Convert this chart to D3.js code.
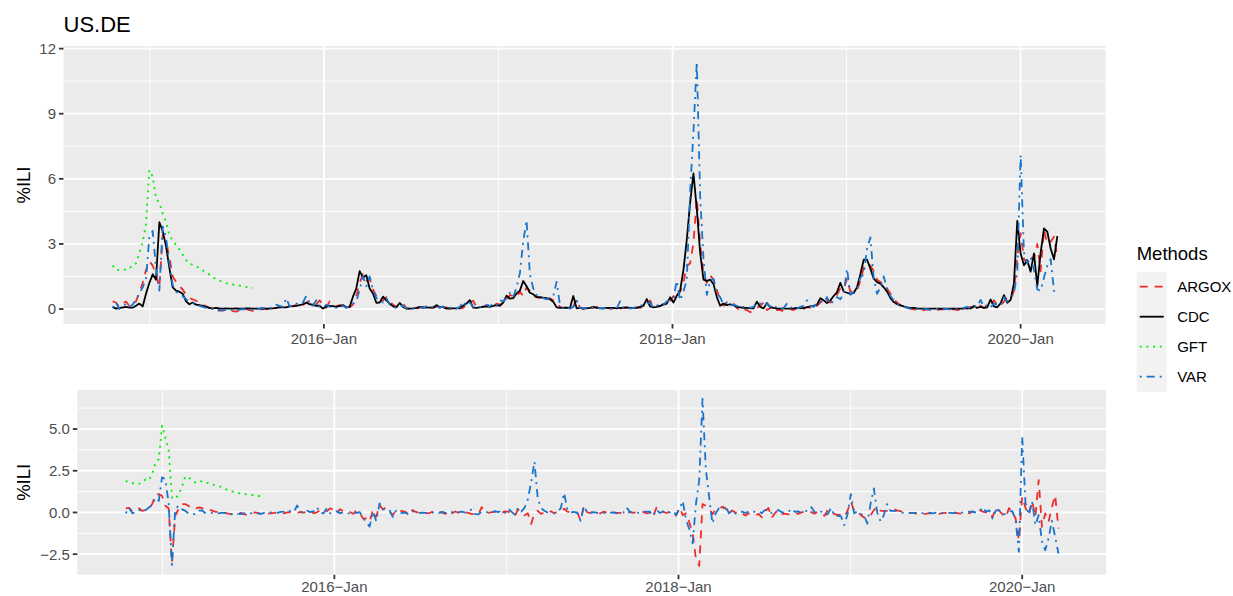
<!DOCTYPE html>
<html><head><meta charset="utf-8">
<script src="https://cdn.jsdelivr.net/npm/d3@7"></script>
<style>
body{margin:0;background:#fff;}
text{font-family:"Liberation Sans", Arial, Helvetica, sans-serif;}
</style>
</head><body>
<svg id="chart" width="1233" height="596"></svg>
<script>
// ---------------- DATA ----------------
const titleText = "US.DE";
const yLabel = "%ILI";
const legendTitle = "Methods";
const methods = ["ARGOX", "CDC", "GFT", "VAR"];
const firstWeek = [2014, 9, 15];           // first weekly observation (y, m0, d)
const xDomainDates = [[2014, 6, 4], [2020, 5, 27]];
const xMajorYears = [2016, 2018, 2020];
const xMinorYears = [2015, 2017, 2019];
const xTickLabels = ["2016\u2212Jan", "2018\u2212Jan", "2020\u2212Jan"];
const yTicksTop = [0, 3, 6, 9, 12];
const yTickLabelsTop = ["0", "3", "6", "9", "12"];
const yMinorTop = [1.5, 4.5, 7.5, 10.5];
const yTicksBottom = [-2.5, 0, 2.5, 5];
const yTickLabelsBottom = ["\u22122.5", "0.0", "2.5", "5.0"];
const yMinorBottom = [-1.25, 1.25, 3.75, 6.25];

const cdc = [
0.10,0.02,0.05,0.07,0.10,0.06,0.06,0.15,0.25,0.12,
0.70,1.20,1.60,1.35,4.00,3.60,2.90,1.90,1.00,0.85,
0.80,0.70,0.35,0.22,0.30,0.20,0.18,0.15,0.10,0.05,
0.03,0.05,0.03,0.02,0.03,0.02,0.02,0.03,0.02,0.02,
0.03,0.03,0.02,0.02,0.02,0.03,0.02,0.02,0.03,0.05,
0.08,0.08,0.08,0.12,0.13,0.15,0.18,0.22,0.29,0.22,
0.20,0.15,0.15,0.02,0.12,0.15,0.13,0.10,0.15,0.18,
0.08,0.10,0.57,0.95,1.75,1.45,1.56,0.95,0.72,0.29,
0.30,0.57,0.40,0.25,0.12,0.08,0.28,0.10,0.02,0.02,
0.03,0.05,0.10,0.06,0.08,0.06,0.06,0.18,0.08,0.10,
0.02,0.03,0.03,0.03,0.05,0.15,0.25,0.41,0.06,0.05,
0.08,0.10,0.12,0.10,0.15,0.18,0.15,0.30,0.62,0.48,
0.50,0.72,0.85,1.29,1.05,0.75,0.68,0.55,0.55,0.52,
0.50,0.45,0.34,0.08,0.05,0.05,0.06,0.05,0.60,0.03,
0.05,0.03,0.03,0.05,0.10,0.05,0.03,0.03,0.05,0.05,
0.05,0.03,0.05,0.05,0.08,0.05,0.05,0.05,0.10,0.15,
0.46,0.12,0.08,0.10,0.15,0.20,0.25,0.54,0.30,0.61,
0.85,1.80,3.20,4.90,6.25,4.60,2.60,1.35,1.30,1.35,
1.15,0.55,0.15,0.25,0.18,0.22,0.18,0.10,0.08,0.05,
0.05,0.03,0.03,0.34,0.10,0.03,0.28,0.08,0.05,0.03,
0.02,0.02,0.02,0.02,0.03,0.05,0.03,0.05,0.08,0.12,
0.15,0.20,0.50,0.40,0.27,0.40,0.60,0.78,1.21,0.80,
0.75,0.70,0.74,1.00,1.60,2.27,2.27,1.86,1.40,1.24,
1.17,1.00,0.80,0.50,0.32,0.22,0.17,0.12,0.08,0.05,
0.05,0.03,0.02,0.02,0.02,0.02,0.02,0.02,0.02,0.02,
0.02,0.02,0.02,0.02,0.02,0.02,0.05,0.02,0.14,0.05,
0.10,0.05,0.08,0.44,0.12,0.08,0.26,0.64,0.29,0.42,
1.18,4.06,2.56,2.02,2.25,1.72,2.56,1.06,2.60,3.71,
3.56,2.79,2.29,3.36];

const argox = [
0.35,0.30,0.10,0.25,0.35,0.15,0.20,0.35,0.75,1.20,
1.80,2.20,2.00,1.60,1.00,3.40,3.10,2.40,1.50,1.25,
1.05,0.90,0.65,0.50,0.45,0.38,0.30,0.20,0.12,0.05,
0.02,-0.02,-0.05,-0.08,-0.03,0.00,-0.10,-0.12,-0.05,0.02,
0.00,-0.05,-0.08,-0.05,-0.03,0.00,0.02,-0.05,-0.02,0.05,
0.10,0.08,0.05,0.15,0.12,0.20,0.25,0.18,0.30,0.35,
0.30,0.22,0.40,0.20,0.05,0.35,0.20,0.12,0.18,0.10,
0.20,0.08,0.20,0.60,1.20,1.60,1.30,1.40,0.90,0.60,
0.35,0.40,0.55,0.35,0.20,0.10,0.12,0.25,0.05,0.00,
0.00,0.02,0.05,0.10,0.02,0.08,0.05,0.10,0.20,0.05,
0.08,0.00,0.02,0.05,0.02,0.05,0.20,0.30,0.38,0.10,
0.05,0.12,0.15,0.20,0.12,0.25,0.20,0.25,0.40,0.65,
0.60,0.55,0.80,0.60,1.00,0.85,0.60,0.55,0.50,0.60,
0.45,0.50,0.40,0.30,0.10,0.05,0.08,0.05,0.12,0.45,
0.05,0.00,0.05,0.02,0.05,0.10,0.02,0.00,0.05,0.02,
0.02,0.05,0.00,0.08,0.05,0.10,0.02,0.08,0.05,0.12,
0.20,0.40,0.10,0.15,0.12,0.25,0.30,0.35,0.60,0.45,
0.80,1.20,2.00,2.10,3.05,5.10,3.00,1.60,1.20,1.55,
1.35,0.90,0.40,0.15,0.30,0.20,0.25,0.05,-0.10,0.00,
-0.05,-0.15,-0.05,0.05,0.15,0.30,-0.05,0.05,0.20,-0.05,
-0.05,-0.10,-0.02,0.00,-0.05,0.05,0.08,0.00,0.10,0.05,
0.20,0.15,0.30,0.55,0.40,0.30,0.45,0.65,0.95,0.90,
1.40,0.80,0.85,0.85,1.30,1.90,2.10,2.00,1.75,1.35,
1.25,1.10,0.95,0.70,0.45,0.30,0.18,0.10,0.05,0.02,
-0.02,-0.05,-0.08,-0.05,-0.02,-0.05,-0.08,-0.05,-0.02,0.00,
-0.05,-0.02,0.00,-0.05,-0.02,0.02,0.00,0.10,0.05,0.20,
0.15,0.05,0.15,0.15,0.40,0.20,0.15,0.35,0.55,0.45,
0.82,2.40,3.50,2.30,2.10,2.40,2.30,3.00,1.74,3.65,
3.00,3.10,3.33,2.40];

const varm = [
0.05,0.30,0.00,0.10,0.25,0.10,0.20,0.45,0.70,1.00,
1.40,3.30,3.60,1.90,0.85,3.80,3.30,2.10,1.10,0.80,
0.70,0.60,0.45,0.35,0.28,0.20,0.15,0.10,0.05,0.02,
0.00,-0.05,-0.08,-0.03,-0.05,-0.08,-0.02,-0.05,-0.03,0.00,
-0.02,-0.05,0.00,-0.03,0.02,0.05,0.00,0.05,0.08,0.20,
0.15,0.10,0.50,0.15,0.10,0.25,0.20,0.30,0.60,0.20,
0.15,0.40,0.10,0.05,0.20,0.10,0.15,0.05,0.10,0.15,
0.05,0.12,0.25,0.35,0.90,1.50,1.05,1.50,0.90,0.50,
0.45,0.30,0.50,0.20,0.10,0.05,0.15,0.15,0.02,0.00,
0.02,0.03,0.08,0.05,0.12,0.03,0.10,0.15,0.05,0.12,
0.00,0.05,0.08,0.02,0.10,0.35,0.15,0.30,0.10,0.05,
0.10,0.08,0.20,0.12,0.25,0.15,0.40,0.35,0.50,0.75,
0.55,1.00,1.65,3.10,4.09,1.60,0.95,0.65,0.55,0.50,
0.45,0.50,0.60,1.25,0.20,0.05,0.10,0.02,0.10,0.40,
0.05,0.02,0.05,0.03,0.10,0.02,0.05,0.02,0.05,0.00,
0.05,0.02,0.35,0.05,0.10,0.02,0.05,0.10,0.15,0.20,
0.25,0.30,0.05,0.15,0.25,0.20,0.35,0.40,0.50,1.30,
0.40,0.80,1.35,5.40,8.20,11.40,5.20,2.30,0.65,1.30,
1.40,0.70,0.55,0.20,0.30,0.15,0.20,0.15,0.05,0.10,
0.15,0.05,0.10,0.30,0.25,0.15,0.25,0.10,0.20,0.05,
0.00,0.05,0.25,0.05,0.10,0.02,0.10,0.15,0.40,0.15,
0.10,0.25,0.35,0.30,0.55,0.20,0.40,0.55,0.45,0.70,
1.85,0.65,0.80,0.90,1.45,1.60,2.80,3.30,1.40,0.70,
1.00,1.50,0.90,0.60,0.40,0.25,0.15,0.10,0.05,0.02,
0.02,0.00,-0.02,0.02,0.00,-0.03,0.02,0.00,-0.02,0.02,
0.00,-0.02,0.03,0.00,0.02,0.05,0.10,0.05,0.15,0.10,
0.42,0.10,0.20,0.08,0.25,0.20,0.15,0.55,0.35,0.50,
0.72,1.70,7.10,2.60,2.10,2.40,1.80,0.90,0.85,1.45,
2.00,2.30,0.83,0.90];

const gft = [
2.00,1.80,1.80,1.82,1.82,1.85,2.05,2.10,2.55,3.10,
3.90,6.40,6.10,5.10,4.90,4.40,4.00,3.40,3.15,2.95,
2.75,2.50,2.25,2.08,2.05,1.98,1.88,1.78,1.68,1.58,
1.46,1.38,1.30,1.25,1.19,1.16,1.13,1.10,1.08,1.05,
1.02,1.00,0.97];

// ---------------- STYLE / LAYOUT ----------------
const colors = {ARGOX: "#EE2C2C", CDC: "#000000", GFT: "#00EE00", VAR: "#1874CD"};
const dashes = {ARGOX: "8,7", CDC: null, GFT: "2,4.7", VAR: "2,5,8,5"};
const lineW = 1.8;
const svg = d3.select("#chart");

const utc = a => new Date(Date.UTC(a[0], a[1], a[2]));
const start = utc(firstWeek);
const dates = cdc.map((_, i) => d3.utcDay.offset(start, 7 * i));

function series(name, vals) {
  return {name, pts: vals.map((v, i) => ({date: dates[i], v}))};
}
const topSeries = [series("ARGOX", argox), series("CDC", cdc), series("GFT", gft), series("VAR", varm)];
const errSeries = [
  series("ARGOX", argox.map((v, i) => v - cdc[i])),
  series("GFT", gft.map((v, i) => v - cdc[i])),
  series("VAR", varm.map((v, i) => v - cdc[i]))
];

const xDomain = xDomainDates.map(utc);

function drawPanel(opt) {
  const {left, right, top, bottom, yDomain, yTicks, yLabels, yMinor, data, id, xLabelDy} = opt;
  const x = d3.scaleUtc().domain(xDomain).range([left, right]);
  const y = d3.scaleLinear().domain(yDomain).range([bottom, top]);
  const g = svg.append("g");
  g.append("rect").attr("x", left).attr("y", top).attr("width", right - left).attr("height", bottom - top).attr("fill", "#EBEBEB");
  // minor grid
  yMinor.forEach(v => g.append("line").attr("x1", left).attr("x2", right).attr("y1", y(v)).attr("y2", y(v)).attr("stroke", "#fff").attr("stroke-width", 0.9));
  xMinorYears.forEach(yr => { const xx = x(new Date(Date.UTC(yr, 0, 1))); g.append("line").attr("x1", xx).attr("x2", xx).attr("y1", top).attr("y2", bottom).attr("stroke", "#fff").attr("stroke-width", 0.9); });
  // major grid
  yTicks.forEach(v => g.append("line").attr("x1", left).attr("x2", right).attr("y1", y(v)).attr("y2", y(v)).attr("stroke", "#fff").attr("stroke-width", 1.8));
  xMajorYears.forEach(yr => { const xx = x(new Date(Date.UTC(yr, 0, 1))); g.append("line").attr("x1", xx).attr("x2", xx).attr("y1", top).attr("y2", bottom).attr("stroke", "#fff").attr("stroke-width", 1.8); });
  // clip
  svg.append("clipPath").attr("id", id).append("rect").attr("x", left).attr("y", top).attr("width", right - left).attr("height", bottom - top);
  const lg = g.append("g").attr("clip-path", `url(#${id})`);
  const line = d3.line().x(d => x(d.date)).y(d => y(d.v));
  data.forEach(s => {
    lg.append("path").attr("d", line(s.pts)).attr("fill", "none")
      .attr("stroke", colors[s.name]).attr("stroke-width", lineW)
      .attr("stroke-linejoin", "round")
      .attr("stroke-dasharray", dashes[s.name]);
  });
  // y axis ticks + labels
  yTicks.forEach((v, i) => {
    g.append("line").attr("x1", left - 4.5).attr("x2", left).attr("y1", y(v)).attr("y2", y(v)).attr("stroke", "#333").attr("stroke-width", 1.8);
    g.append("text").attr("x", left - 7.5).attr("y", y(v)).attr("dy", "0.36em").attr("text-anchor", "end")
      .attr("font-size", 15).attr("fill", "#4D4D4D").text(yLabels[i]);
  });
  // x axis ticks + labels
  xMajorYears.forEach((yr, i) => {
    const xx = x(new Date(Date.UTC(yr, 0, 1)));
    g.append("line").attr("x1", xx).attr("x2", xx).attr("y1", bottom).attr("y2", bottom + 4.5).attr("stroke", "#333").attr("stroke-width", 1.8);
    g.append("text").attr("x", xx).attr("y", bottom + xLabelDy).attr("text-anchor", "middle")
      .attr("font-size", 15).attr("fill", "#4D4D4D").text(xTickLabels[i]);
  });
  // y title
  g.append("text").attr("transform", `translate(29.5,${(top + bottom) / 2}) rotate(-90)`)
    .attr("text-anchor", "middle").attr("font-size", 18.5).attr("fill", "#000").text(yLabel);
}

drawPanel({left: 63.5, right: 1105.5, top: 46, bottom: 324, yDomain: [-0.69, 12.12],
  yTicks: yTicksTop, yLabels: yTickLabelsTop, yMinor: yMinorTop, data: topSeries, id: "clipTop", xLabelDy: 20});
drawPanel({left: 77.3, right: 1106, top: 390, bottom: 574.7, yDomain: [-3.73, 7.34],
  yTicks: yTicksBottom, yLabels: yTickLabelsBottom, yMinor: yMinorBottom, data: errSeries, id: "clipBot", xLabelDy: 17});

// title
svg.append("text").attr("x", 63.5).attr("y", 31.7).attr("font-size", 22).attr("fill", "#000").text(titleText);

// legend
const lgX = 1136.7, lgY = 271.7, keyH = 30, keyW = 30;
svg.append("text").attr("x", lgX).attr("y", 260).attr("font-size", 18.5).attr("fill", "#000").text(legendTitle);
methods.forEach((m, i) => {
  const ky = lgY + i * keyH;
  svg.append("rect").attr("x", lgX).attr("y", ky).attr("width", keyW).attr("height", keyH).attr("fill", "#F2F2F2");
  svg.append("line").attr("x1", lgX + 3).attr("x2", lgX + keyW - 3).attr("y1", ky + keyH / 2).attr("y2", ky + keyH / 2)
    .attr("stroke", colors[m]).attr("stroke-width", lineW).attr("stroke-dasharray", dashes[m]);
  svg.append("text").attr("x", lgX + keyW + 10.5).attr("y", ky + keyH / 2).attr("dy", "0.36em")
    .attr("font-size", 15).attr("fill", "#000").text(m);
});
</script>
</body></html>
